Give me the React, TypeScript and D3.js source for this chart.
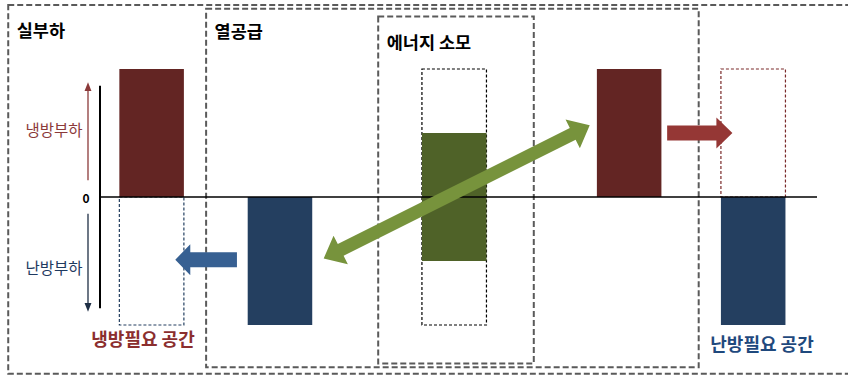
import React from "react";
import * as d3 from "d3";

// ---- data ----
const columnNames = ["실부하", "열공급", "에너지 소모", "열공급 후", "난방필요"];
const columnCenters = [7.2, 25.1, 49.4, 73.8, 91.1]; // position along x domain
const coolingBars = [1, 0, 0, 1, 0]; // positive (냉방부하)
const heatingBars = [0, -1, 0, 0, -1]; // negative (난방부하)
const energyLow = [0, 0, -0.5, 0, 0];
const energyHigh = [0, 0, 0.5, 0, 0];
const outlineLow = [-1, null, -1, null, 0];
const outlineHigh = [0, null, 1, null, 1];
const outlineKind = ["heat", null, "neutral", null, "cool"];

const groupTitles = ["실부하", "열공급", "에너지 소모"];
const groupX0 = [-12.8, 14.8, 38.8];
const groupX1 = [110, 83.5, 60.5];
const groupY0 = [1.5, 1.47, 1.41];
const groupY1 = [-1.38, -1.33, -1.3];
const groupTitleY = [1.25, 1.24, 1.16];

const axisLabels = ["냉방부하", "0", "난방부하"];
const spaceLabels = ["냉방필요 공간", "난방필요 공간"];

// arrows: [x0, y0, x1, y1]
const blueArrow = [19.1, -0.49, 10.5, -0.49];
const redArrow = [79.1, 0.5, 88.2, 0.5];
const greenArrow = [31.2, -0.48, 68.3, 0.56];

const W = 848;
const H = 376;

const x = d3.scaleLinear().domain([0, 100]).range([100, 817]);
const y = d3.scaleLinear().domain([-1, 1]).range([325, 69]);
const barHalf = 4.5;

const C = {
  coolBar: "#632523",
  heatBar: "#243F60",
  green: "#4F6228",
  greenArrow: "#77933C",
  redArrow: "#953735",
  blueArrow: "#376092",
  gray: "#5A5A5A",
  coolText: "#8B2E2E",
  heatText: "#1F497D",
};

const FONT = "'Noto Sans CJK KR', 'Noto Sans', sans-serif";

function arrowPolygon(
  x0: number, y0: number, x1: number, y1: number,
  body: number, head: number, headLen: number, double: boolean
) {
  const dx = x1 - x0, dy = y1 - y0;
  const L = Math.hypot(dx, dy);
  const ux = dx / L, uy = dy / L;
  const nx = -uy, ny = ux;
  const P = (t: number, s: number) => [x0 + ux * t + nx * s, y0 + uy * t + ny * s];
  const pts: number[][] = [];
  if (double) {
    pts.push(P(0, 0), P(headLen, head / 2), P(headLen, body / 2));
  } else {
    pts.push(P(0, body / 2));
  }
  pts.push(P(L - headLen, body / 2), P(L - headLen, head / 2), P(L, 0), P(L - headLen, -head / 2), P(L - headLen, -body / 2));
  if (double) {
    pts.push(P(headLen, -body / 2), P(headLen, -head / 2));
  } else {
    pts.push(P(0, -body / 2));
  }
  return pts.map((p) => p.join(",")).join(" ");
}

export default function App() {
  const y0 = y(0);
  return (
    <svg width={W} height={H} style={{ position: "absolute", left: 0, top: 0, background: "#fff" }} fontFamily={FONT}>
      <defs>
        <marker id="mRed" viewBox="0 0 10 10" refX="5" refY="5" markerWidth="7" markerHeight="7" orient="auto">
          <path d="M0,1 L10,5 L0,9 z" fill="#8B3A3A" />
        </marker>
        <marker id="mDark" viewBox="0 0 10 10" refX="5" refY="5" markerWidth="7" markerHeight="7" orient="auto">
          <path d="M0,1 L10,5 L0,9 z" fill="#1F2F45" />
        </marker>
      </defs>

      {/* group dashed boxes */}
      {groupTitles.map((t, i) => {
        const gx0 = x(groupX0[i]);
        const gx1 = x(groupX1[i]);
        const gy0 = y(groupY0[i]);
        const gy1 = y(groupY1[i]);
        return (
          <g key={t}>
            <rect x={gx0} y={gy0} width={gx1 - gx0} height={gy1 - gy0} fill="none" stroke={C.gray} strokeWidth={2} strokeDasharray="6,3" />
            <text x={gx0 + 8.5} y={y(groupTitleY[i])} fontSize={17.5} fontWeight="bold" fill="#000">{t}</text>
          </g>
        );
      })}

      {/* bar outlines (dotted) */}
      {columnNames.map((n, i) => {
        if (outlineLow[i] === null) return null;
        const k = outlineKind[i];
        const col = k === "heat" ? C.heatBar : k === "cool" ? "#7A2A2A" : "#000";
        const top = y(outlineHigh[i] as number);
        const bot = y(outlineLow[i] as number);
        return (
          <rect key={"o" + n} x={x(columnCenters[i] - barHalf)} y={top} width={x(columnCenters[i] + barHalf) - x(columnCenters[i] - barHalf)} height={bot - top}
            fill="none" stroke={col} strokeWidth={1.2} strokeDasharray="3,2" />
        );
      })}

      {/* bars */}
      {columnNames.map((n, i) => {
        const bx = x(columnCenters[i] - barHalf);
        const bw = x(columnCenters[i] + barHalf) - bx;
        return (
          <g key={"b" + n}>
            {coolingBars[i] > 0 && <rect x={bx} y={y(coolingBars[i])} width={bw} height={y0 - y(coolingBars[i])} fill={C.coolBar} />}
            {heatingBars[i] < 0 && <rect x={bx} y={y0} width={bw} height={y(heatingBars[i]) - y0} fill={C.heatBar} />}
            {energyHigh[i] !== energyLow[i] && <rect x={bx} y={y(energyHigh[i])} width={bw} height={y(energyLow[i]) - y(energyHigh[i])} fill={C.green} />}
          </g>
        );
      })}

      {/* zero line & axis */}
      <line x1={x(0)} x2={x(100)} y1={y0} y2={y0} stroke="#000" strokeWidth={1.5} />
      <line x1={x(0)} x2={x(0)} y1={y(0.87)} y2={y(-0.87)} stroke="#000" strokeWidth={2} />

      {/* axis direction arrows */}
      <line x1={88} x2={88} y1={y(0.13)} y2={y(0.86)} stroke="#8B3A3A" strokeWidth={1.3} markerEnd="url(#mRed)" />
      <line x1={88} x2={88} y1={y(-0.13)} y2={y(-0.86)} stroke="#1F2F45" strokeWidth={1.3} markerEnd="url(#mDark)" />
      <text x={54} y={y(0.53)} textAnchor="middle" dominantBaseline="central" fontSize={15.5} fill="#8B3A3A">{axisLabels[0]}</text>
      <text x={86} y={y0} textAnchor="middle" dominantBaseline="central" fontSize={12} fontWeight="bold" fill="#000">{axisLabels[1]}</text>
      <text x={54} y={y(-0.55)} textAnchor="middle" dominantBaseline="central" fontSize={15.5} fill="#1F3A5F">{axisLabels[2]}</text>

      {/* block arrows */}
      <polygon points={arrowPolygon(x(blueArrow[0]), y(blueArrow[1]), x(blueArrow[2]), y(blueArrow[3]), 15, 31, 15, false)} fill={C.blueArrow} />
      <polygon points={arrowPolygon(x(redArrow[0]), y(redArrow[1]), x(redArrow[2]), y(redArrow[3]), 15, 31, 16, false)} fill={C.redArrow} />
      <polygon points={arrowPolygon(x(greenArrow[0]), y(greenArrow[1]), x(greenArrow[2]), y(greenArrow[3]), 13, 32, 19, true)} fill={C.greenArrow} />

      {/* space labels */}
      <text x={143} y={346} textAnchor="middle" fontSize={18} fontWeight="bold" fill={C.coolText}>{spaceLabels[0]}</text>
      <text x={762} y={351} textAnchor="middle" fontSize={18} fontWeight="bold" fill={C.heatText}>{spaceLabels[1]}</text>
    </svg>
  );
}
